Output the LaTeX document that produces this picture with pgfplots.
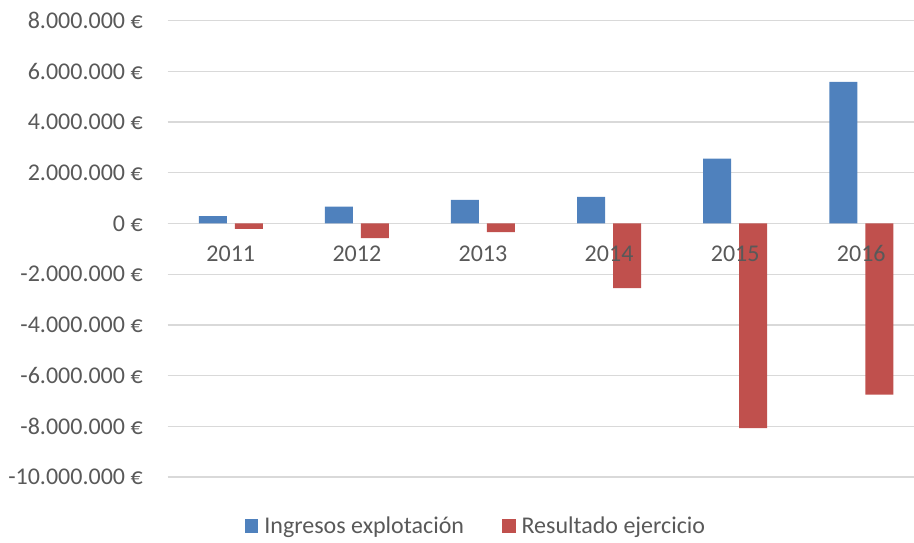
\documentclass[border=0pt]{standalone}
\usepackage{pgfplots}
\pgfplotsset{compat=1.18}
\usepackage{fontspec}
\setmainfont{Carlito}

\definecolor{serieA}{HTML}{4F81BD}
\definecolor{serieB}{HTML}{C0504D}
\definecolor{rejilla}{HTML}{D9D9D9}
\definecolor{texto}{HTML}{595959}

\newcommand{\fuente}{\fontsize{24bp}{28bp}\selectfont}

\begin{document}
\fuente
\begin{tikzpicture}
\begin{axis}[
  name=ax,
  scale only axis,
  width=746.3bp, height=456.3bp,
  ybar=8bp, bar width=28bp,
  xmin=-0.5, xmax=5.418,
  ymin=-10000000, ymax=8000000,
  axis x line=middle, axis y line=left,
  x axis line style={-, draw=rejilla, line width=1.3bp},
  y axis line style={draw=none},
  ymajorgrids,
  grid style={rejilla, line width=1.3bp},
  xtick=\empty,
  ytick={-10000000,-8000000,-6000000,-4000000,-2000000,0,2000000,4000000,6000000,8000000},
  yticklabels={-10.000.000 €,-8.000.000 €,-6.000.000 €,-4.000.000 €,-2.000.000 €,0 €,2.000.000 €,4.000.000 €,6.000.000 €,8.000.000 €},
  scaled y ticks=false,
  tick style={draw=none},
  yticklabel style={font=\fuente, text=texto, xshift=-14.7bp},
  legend style={draw=none, fill=none, at={(0.4158,-0.1096)}, anchor=center,
    legend columns=2, font=\fuente, text=texto,
    nodes={inner xsep=6bp},
    /tikz/every even column/.append style={column sep=32bp}},
  legend image code/.code={\fill[#1] (0bp,-6bp) rectangle (13.5bp,8.5bp);},
]
% Ingresos de explotación por año
\addplot[fill=serieA, draw=none] coordinates {
  (0,290000) (1,670000) (2,930000) (3,1050000) (4,2560000) (5,5590000)};
% Resultado del ejercicio por año
\addplot[fill=serieB, draw=none] coordinates {
  (0,-210000) (1,-580000) (2,-340000) (3,-2550000) (4,-8070000) (5,-6750000)};
\legend{Ingresos explotación, Resultado ejercicio}
% year labels under the zero line, written over the bars
\pgfplotsinvokeforeach{0,...,5}{
  \node[anchor=north, yshift=-14bp, font=\fuente, text=texto]
    at (axis cs:#1,0) {\pgfmathparse{int(2011+#1)}\pgfmathresult};
}
\end{axis}
\pgfresetboundingbox
\path[use as bounding box] ([xshift=-167.7bp,yshift=-66bp]ax.south west) rectangle ([yshift=20.7bp]ax.north east);
\end{tikzpicture}
\end{document}
